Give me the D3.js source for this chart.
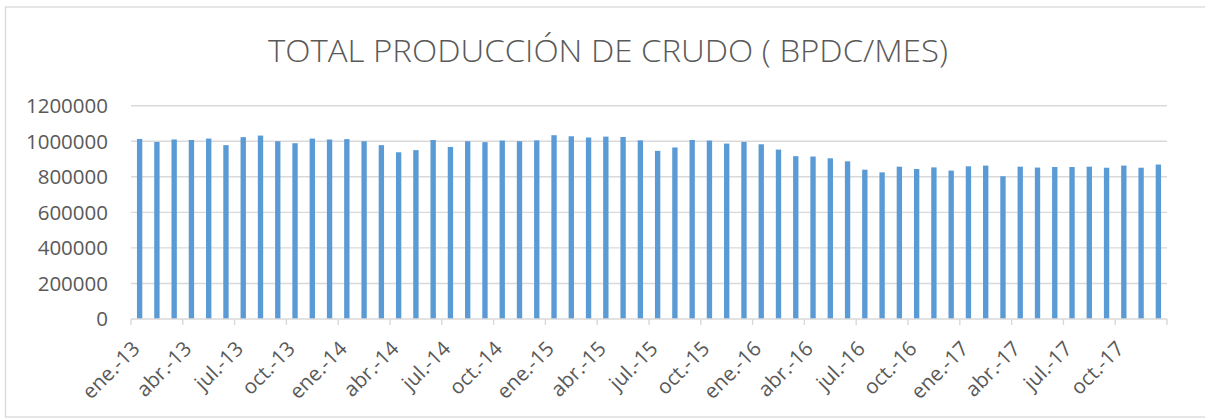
<!DOCTYPE html>
<html>
<head>
<meta charset="utf-8">
<script src="https://cdnjs.cloudflare.com/ajax/libs/d3/7.8.5/d3.min.js"></script>
<style>
  body { margin: 0; background: #fff; }
  text { font-family: "Open Sans", "Noto Sans", sans-serif; fill: #595959; }
</style>
</head>
<body>
<script>
// monthly crude production, ene-13 .. dic-17
var years = ["13", "14", "15", "16", "17"]
var monthNames = ["ene.", "feb.", "mar.", "abr.", "may.", "jun.", "jul.", "ago.", "sep.", "oct.", "nov.", "dic."]
var values2013 = [1013000, 996000, 1010000, 1007000, 1015000, 978000, 1023000, 1032000, 1000000, 989000, 1015000, 1010000]
var values2014 = [1012000, 1000000, 978000, 938000, 950000, 1007000, 968000, 1000000, 995000, 1004000, 1000000, 1005000]
var values2015 = [1034000, 1028000, 1021000, 1026000, 1024000, 1005000, 946000, 965000, 1007000, 1004000, 987000, 996000]
var values2016 = [983000, 953000, 916000, 914000, 904000, 887000, 840000, 825000, 857000, 844000, 853000, 835000]
var values2017 = [859000, 863000, 803000, 857000, 852000, 855000, 855000, 857000, 851000, 863000, 851000, 869000]
var yTicks = [0, 200000, 400000, 600000, 800000, 1000000, 1200000]

var allValues = [values2013, values2014, values2015, values2016, values2017]
var data = []
years.forEach(function(yr, yi) {
  monthNames.forEach(function(m, mi) {
    data.push({label: m + "-" + yr, value: allValues[yi][mi]})
  })
})

var W = 1205, H = 419
var plotLeft = 131, plotRight = 1167, plotTop = 105.7, plotBottom = 319

var svg = d3.select("body").append("svg")
  .attr("width", W).attr("height", H)

// chart border
svg.append("rect")
  .attr("x", 5.5).attr("y", 7)
  .attr("width", 1210).attr("height", 410)
  .attr("fill", "none")
  .attr("stroke", "#d9d9d9")
  .attr("stroke-width", 1.3)

svg.append("text")
  .attr("x", 608).attr("y", 62)
  .attr("text-anchor", "middle")
  .attr("textLength", 680)
  .attr("lengthAdjust", "spacingAndGlyphs")
  .style("font-size", "31px")
  .style("font-weight", 300)
  .text("TOTAL PRODUCCIÓN DE CRUDO ( BPDC/MES)")

var x = d3.scaleBand()
  .domain(data.map(function(d) { return d.label }))
  .range([plotLeft, plotRight])
  .paddingInner(0.69)
  .paddingOuter(0.345)

var y = d3.scaleLinear()
  .domain([0, 1200000])
  .range([plotBottom, plotTop])

// gridlines
svg.append("g")
  .selectAll("line")
  .data(yTicks.slice(1))
  .enter()
  .append("line")
  .attr("x1", plotLeft).attr("x2", plotRight)
  .attr("y1", function(d) { return y(d) }).attr("y2", function(d) { return y(d) })
  .attr("stroke", "#d9d9d9")
  .attr("stroke-width", 1.4)

// y labels
svg.append("g")
  .selectAll("text")
  .data(yTicks)
  .enter()
  .append("text")
  .attr("x", 108)
  .attr("y", function(d) { return y(d) })
  .attr("dy", "0.36em")
  .attr("text-anchor", "end")
  .style("font-size", "20.5px")
  .text(function(d) { return d })

// bars
svg.append("g")
  .selectAll("rect")
  .data(data)
  .enter()
  .append("rect")
  .attr("x", function(d) { return x(d.label) })
  .attr("y", function(d) { return y(d.value) })
  .attr("width", x.bandwidth())
  .attr("height", function(d) { return y(0) - y(d.value) })
  .attr("fill", "#5b9bd5")

// category axis
var step = x.step()
var tickIdx = d3.range(0, data.length + 1, 3)
svg.append("line")
  .attr("x1", plotLeft).attr("x2", plotRight)
  .attr("y1", plotBottom).attr("y2", plotBottom)
  .attr("stroke", "#d9d9d9")
  .attr("stroke-width", 1.4)

svg.append("g")
  .selectAll("line")
  .data(tickIdx)
  .enter()
  .append("line")
  .attr("x1", function(i) { return plotLeft + i * step })
  .attr("x2", function(i) { return plotLeft + i * step })
  .attr("y1", plotBottom).attr("y2", plotBottom + 6)
  .attr("stroke", "#d9d9d9")
  .attr("stroke-width", 1.4)

svg.append("g")
  .selectAll("text")
  .data(tickIdx.filter(function(i) { return i < data.length }))
  .enter()
  .append("text")
  .attr("transform", function(i) {
    return "translate(" + (plotLeft + i * step + 10) + "," + (plotBottom + 31) + ") rotate(-45)"
  })
  .attr("text-anchor", "end")
  .style("font-size", "20.5px")
  .text(function(i) { return data[i].label })
</script>
</body>
</html>
